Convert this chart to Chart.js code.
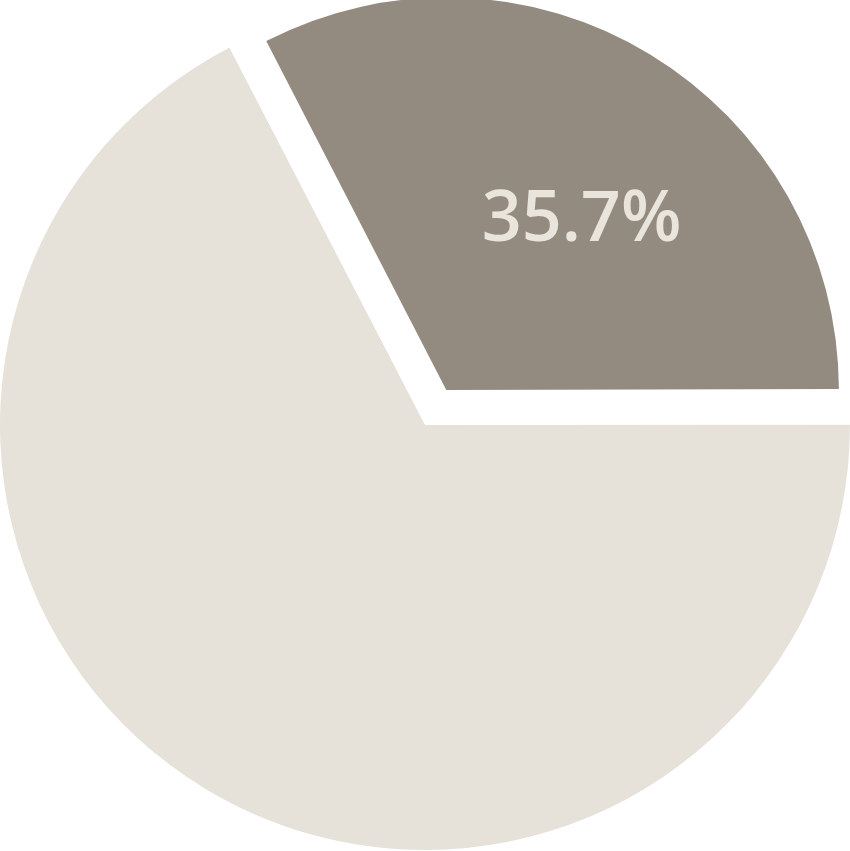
<!DOCTYPE html>
<html>
<head>
<meta charset="utf-8">
<script src="https://cdn.jsdelivr.net/npm/chart.js@4.4.1/dist/chart.umd.min.js"></script>
<style>
  html, body { margin: 0; padding: 0; background: #ffffff; overflow: hidden; width: 850px; height: 851px; }
  #wrap { position: absolute; left: -82px; top: -82px; width: 1014px; height: 1014px; }
</style>
</head>
<body>
<div id="wrap"><canvas id="chart"></canvas></div>
<script>
// ---- data ----
const categories  = ['Highlighted', 'Remainder'];
const sliceValues = [32.6, 67.4];          // share of the circle occupied by each slice
const sliceLabels = ['35.7%', ''];          // text printed on the slices
const sliceColors = ['#938b7f', '#e6e2d9'];
const sliceOffsets = [164, 0];             // exploded (pulled out) dark slice

const labelPlugin = {
  id: 'sliceLabels',
  afterDatasetsUpdate(chart) {
    // the pulled-out slice is drawn a little smaller than the main pie
    const arc = chart.getDatasetMeta(0).data[0];
    if (arc) arc.outerRadius = arc.outerRadius * 0.913;
  },
  afterDatasetsDraw(chart) {
    const meta = chart.getDatasetMeta(0);
    const ctx = chart.ctx;
    const R = meta.data[1].outerRadius;
    meta.data.forEach((arc, i) => {
      const txt = sliceLabels[i];
      if (!txt) return;
      const mid = (arc.startAngle + arc.endAngle) / 2 + 5.5 * Math.PI / 180;
      const d = 0.615 * R;
      const x = arc.x + Math.cos(mid) * d;
      const y = arc.y + Math.sin(mid) * d;
      ctx.save();
      ctx.font = '600 70px "Open Sans", "Noto Sans", sans-serif';
      ctx.fillStyle = '#e9e5dc';
      ctx.textAlign = 'center';
      ctx.textBaseline = 'alphabetic';
      ctx.fillText(txt, x, y + 25);
      ctx.restore();
    });
  }
};

new Chart(document.getElementById('chart'), {
  type: 'pie',
  data: {
    labels: categories,
    datasets: [{
      data: sliceValues,
      backgroundColor: sliceColors,
      offset: sliceOffsets,
      borderWidth: 0,
      hoverOffset: 0
    }]
  },
  options: {
    responsive: true,
    maintainAspectRatio: false,
    animation: false,
    events: [],
    rotation: -27.4,
    layout: { padding: 0 },
    plugins: {
      legend: { display: false },
      tooltip: { enabled: false }
    }
  },
  plugins: [labelPlugin]
});
</script>
</body>
</html>
